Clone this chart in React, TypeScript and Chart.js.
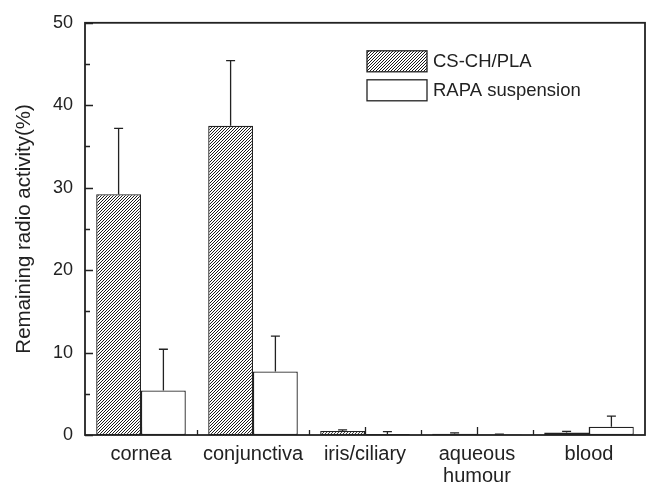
import React, { useEffect, useRef } from 'react';
import { Chart, registerables } from 'chart.js';

Chart.register(...registerables);

const categories: (string | string[])[] = ['cornea', 'conjunctiva', 'iris/ciliary', ['aqueous', 'humour'], 'blood'];
const seriesNames = ['CS-CH/PLA', 'RAPA suspension'];
const csValues = [29.2, 37.5, 0.5, 0.15, 0.3];
const csErrors = [8.0, 7.9, 0.12, 0.1, 0.15];
const rapaValues = [5.4, 7.7, 0.12, 0.06, 1.0];
const rapaErrors = [5.0, 4.3, 0.3, 0.05, 1.3];
const yMin = 0;
const yMax = 50;
const yStep = 10;
const yTitle = 'Remaining radio activity(%)';

const INK = '#222222';
const FONT = "'Liberation Sans', Arial, sans-serif";

function makeHatch(): CanvasPattern | string {
  const p = 3;
  const c = document.createElement('canvas');
  c.width = p;
  c.height = p;
  const ctx = c.getContext('2d');
  if (!ctx) return '#888';
  ctx.fillStyle = '#ffffff';
  ctx.fillRect(0, 0, p, p);
  ctx.strokeStyle = '#1a1a1a';
  ctx.lineWidth = 1;
  ctx.beginPath();
  ctx.moveTo(-1, p + 1);
  ctx.lineTo(p + 1, -1);
  ctx.moveTo(-1, 1);
  ctx.lineTo(1, -1);
  ctx.moveTo(p - 1, p + 1);
  ctx.lineTo(p + 1, p - 1);
  ctx.stroke();
  const pat = ctx.createPattern(c, 'repeat');
  return pat || '#888';
}

const errorBarPlugin = {
  id: 'errorBars',
  afterDatasetsDraw(chart: any) {
    const ctx = chart.ctx;
    const y = chart.scales.y;
    const errs = [csErrors, rapaErrors];
    const vals = [csValues, rapaValues];
    ctx.save();
    ctx.strokeStyle = INK;
    ctx.lineWidth = 1.3;
    chart.data.datasets.forEach((ds: any, i: number) => {
      const meta = chart.getDatasetMeta(i);
      meta.data.forEach((bar: any, j: number) => {
        const top = y.getPixelForValue(vals[i][j] + errs[i][j]);
        const base = y.getPixelForValue(vals[i][j]);
        ctx.beginPath();
        ctx.moveTo(bar.x, base);
        ctx.lineTo(bar.x, top);
        ctx.moveTo(bar.x - 4.5, top);
        ctx.lineTo(bar.x + 4.5, top);
        ctx.stroke();
      });
    });
    ctx.restore();
  },
};

const axesPlugin = {
  id: 'originAxes',
  beforeDatasetsDraw(chart: any) {
    const ctx = chart.ctx;
    const { left, bottom } = chart.chartArea;
    const x = chart.scales.x;
    const y = chart.scales.y;
    ctx.save();
    ctx.strokeStyle = INK;
    ctx.lineWidth = 1.3;
    ctx.beginPath();
    for (let v = yMin; v <= yMax; v += yStep / 2) {
      const py = Math.round(y.getPixelForValue(v)) + 0.5;
      const major = Math.abs(v % yStep) < 1e-9;
      ctx.moveTo(left, py);
      ctx.lineTo(left + (major ? 8 : 5), py);
    }
    const n = categories.length;
    for (let i = 0; i < n; i++) {
      const px = Math.round(x.getPixelForValue(i)) + 0.5;
      ctx.moveTo(px, bottom);
      ctx.lineTo(px, bottom - 8);
      if (i < n - 1) {
        const mx = Math.round((x.getPixelForValue(i) + x.getPixelForValue(i + 1)) / 2) + 0.5;
        ctx.moveTo(mx, bottom);
        ctx.lineTo(mx, bottom - 5);
      }
    }
    ctx.stroke();
    ctx.restore();
  },
  afterDatasetsDraw(chart: any) {
    const ctx = chart.ctx;
    const { left, right, top, bottom } = chart.chartArea;
    ctx.save();
    ctx.strokeStyle = INK;
    ctx.lineWidth = 1.8;
    ctx.strokeRect(left, top, right - left, bottom - top);
    ctx.restore();
  },
};

const legendPlugin = {
  id: 'boxLegend',
  afterDraw(chart: any) {
    const ctx = chart.ctx;
    const { right, top } = chart.chartArea;
    const bx = right - 278;
    const boxW = 60;
    const boxH = 21;
    ctx.save();
    ctx.font = `18.5px ${FONT}`;
    ctx.textBaseline = 'middle';
    ctx.textAlign = 'left';
    chart.data.datasets.forEach((ds: any, i: number) => {
      const by = top + 28 + i * 29;
      ctx.fillStyle = ds.backgroundColor;
      ctx.fillRect(bx, by, boxW, boxH);
      ctx.strokeStyle = INK;
      ctx.lineWidth = 1.3;
      ctx.strokeRect(bx, by, boxW, boxH);
      ctx.fillStyle = INK;
      ctx.fillText(ds.label, bx + boxW + 6, by + boxH / 2 + 1);
    });
    ctx.restore();
  },
};

export default function App() {
  const ref = useRef<HTMLCanvasElement | null>(null);

  useEffect(() => {
    document.body.style.margin = '0';
    if (!ref.current) return;
    const hatch = makeHatch();
    const chart = new Chart(ref.current, {
      type: 'bar',
      data: {
        labels: categories as any,
        datasets: [
          {
            label: seriesNames[0],
            data: csValues,
            backgroundColor: hatch as any,
            borderColor: INK,
            borderWidth: 1.3,
            borderSkipped: false,
          },
          {
            label: seriesNames[1],
            data: rapaValues,
            backgroundColor: '#ffffff',
            borderColor: INK,
            borderWidth: 1.3,
            borderSkipped: false,
          },
        ],
      },
      options: {
        animation: false,
        responsive: true,
        maintainAspectRatio: false,
        layout: { padding: { top: 20, right: 6, left: 0, bottom: 0 } },
        datasets: { bar: { categoryPercentage: 0.8, barPercentage: 1.0 } },
        plugins: {
          legend: { display: false },
          tooltip: { enabled: false },
        },
        scales: {
          x: {
            offset: true,
            grid: { display: false, drawTicks: false },
            border: { display: false },
            ticks: {
              color: INK,
              padding: 9,
              maxRotation: 0,
              autoSkip: false,
              font: { family: FONT, size: 20, lineHeight: 1.08 },
            },
            afterFit: (s: any) => {
              s.height = 51;
            },
          },
          y: {
            min: yMin,
            max: yMax,
            grid: { display: false, drawTicks: false },
            border: { display: false },
            ticks: {
              stepSize: yStep,
              color: INK,
              padding: 12,
              font: { family: FONT, size: 18 },
            },
            title: {
              display: true,
              text: yTitle,
              color: INK,
              padding: { top: 12, bottom: 0 },
              font: { family: FONT, size: 20.5, lineHeight: 1.2 },
            },
            afterFit: (s: any) => {
              s.width = 85;
            },
          },
        },
      },
      plugins: [axesPlugin, errorBarPlugin, legendPlugin],
    });
    return () => chart.destroy();
  }, []);

  return (
    <div style={{ position: 'relative', width: 651, height: 486 }}>
      <canvas ref={ref} />
    </div>
  );
}
